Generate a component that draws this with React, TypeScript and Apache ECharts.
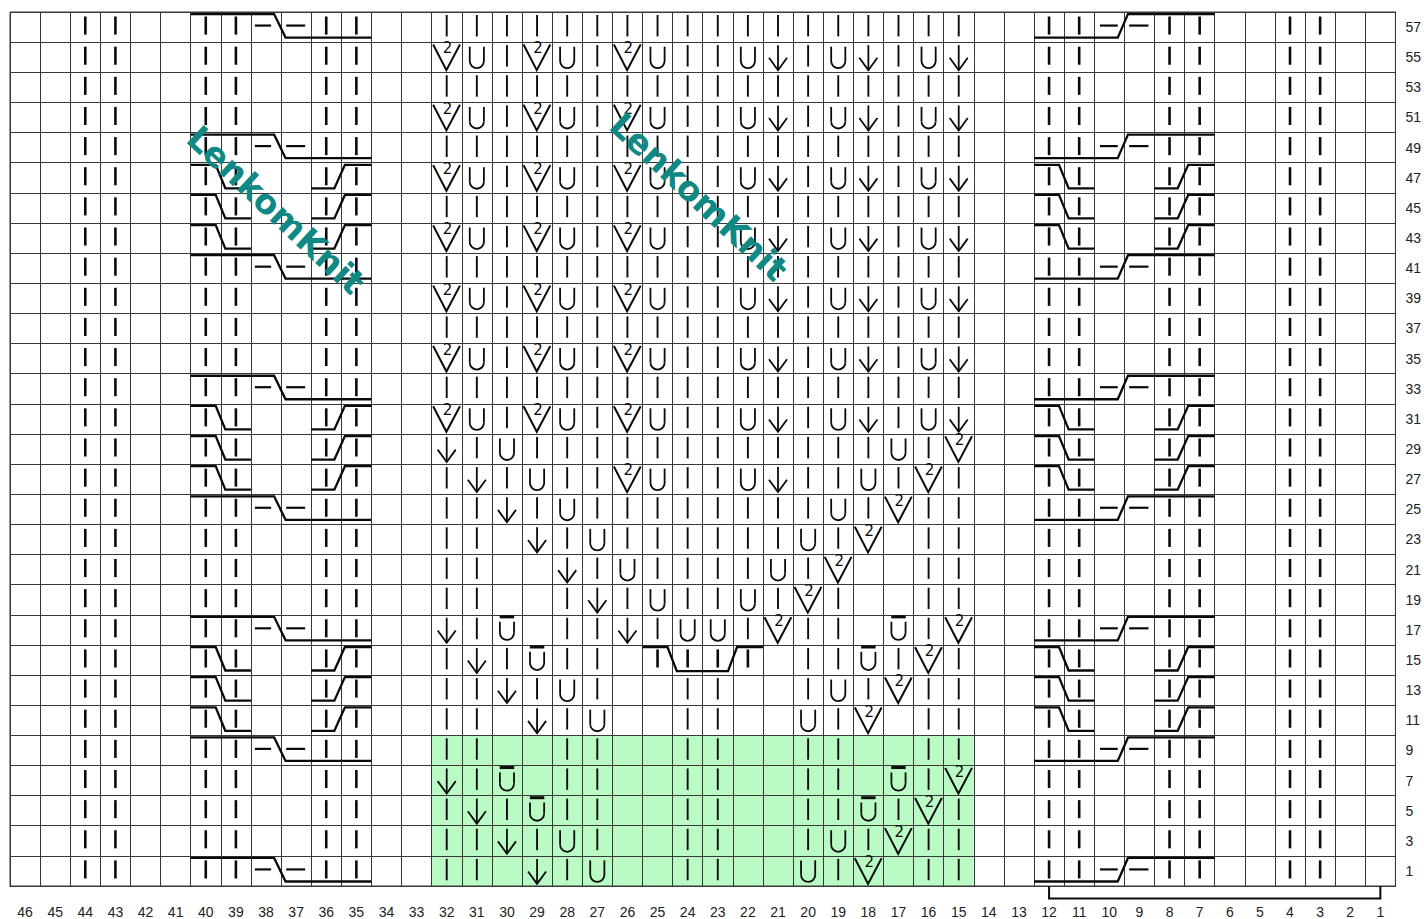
import React, { useEffect, useRef } from "react";
import * as echarts from "echarts";

// ---------- data ----------
const COLUMN_LABELS = ["46","45","44","43","42","41","40","39","38","37","36","35","34","33","32","31","30","29","28","27","26","25","24","23","22","21","20","19","18","17","16","15","14","13","12","11","10","9","8","7","6","5","4","3","2","1"];
const ROW_LABELS = ["1","3","5","7","9","11","13","15","17","19","21","23","25","27","29","31","33","35","37","39","41","43","45","47","49","51","53","55","57"];

// K = knit bar (panels/sides), I = knit bar (centre), U = yarn over, O = yarn over with bar,
// D = arrow decrease, V = "2" V-stitch, . = empty
const SIDE_LEFT = "..KK..KK..KK..";   // columns 46..33
const SIDE_RIGHT = "..KK..KK..KK..";  // columns 14..1
const MIDDLE_ROWS: [number, string][] = [
  [57, "IIIIIIIIIIIIIIIIII"],
  [55, "VUIVUIVUIIUDIUDIUD"],
  [53, "IIIIIIIIIIIIIIIIII"],
  [51, "VUIVUIVUIIUDIUDIUD"],
  [49, "IIIIIIIIIIIIIIIIII"],
  [47, "VUIVUIVUIIUDIUDIUD"],
  [45, "IIIIIIIIIIIIIIIIII"],
  [43, "VUIVUIVUIIUDIUDIUD"],
  [41, "IIIIIIIIIIIIIIIIII"],
  [39, "VUIVUIVUIIUDIUDIUD"],
  [37, "IIIIIIIIIIIIIIIIII"],
  [35, "VUIVUIVUIIUDIUDIUD"],
  [33, "IIIIIIIIIIIIIIIIII"],
  [31, "VUIVUIVUIIUDIUDIUD"],
  [29, "DIUIIIIIIIIIIIIUIV"],
  [27, "IDIUIIVUIIUDIIUIVI"],
  [25, "IIDIUIIIIIIIIUIVII"],
  [23, "II.DIUIIIIIIUIV.II"],
  [21, "II..DIUIIIIUIV..II"],
  [19, "II..IDIUIIUIVI..II"],
  [17, "DIO.IIDIUUIVII.OIV"],
  [15, "IDIOII.KKKK.IIOIVI"],
  [13, "IIDIUI..II..IUIVII"],
  [11, "II.DIU..II..UIV.II"],
  [9,  "II..II..II..II..II"],
  [7,  "DIO.II..II..II.OIV"],
  [5,  "IDIOII..II..IIOIVI"],
  [3,  "IIDIUI..II..IUIVII"],
  [1,  "II.DIU..II..UIV.II"],
];

// cables: rows and left-most column
const BIG_CABLE_ROWS = [1, 9, 17, 25, 33, 41, 49, 57];
const SMALL_CABLE_ROWS = [11, 13, 15, 27, 29, 31, 43, 45, 47];
const BIG_FALL_COLUMNS = [40];
const BIG_RISE_COLUMNS = [12];
const SMALL_FALL_COLUMNS = [40, 12];
const SMALL_RISE_COLUMNS = [36, 8];
const TROUGH_CABLES: [number, number][] = [[25, 15]]; // [column, row]

const HIGHLIGHT = { fromCol: 32, toCol: 15, fromRow: 1, toRow: 9 };
const REPEAT_BRACKET = { fromCol: 12, toCol: 1 };
const WATERMARK_TEXT = "LenkomKnit";

// ---------- helpers ----------
const xi = (col: number) => COLUMN_LABELS.indexOf(String(col));
const yi = (row: number) => ROW_LABELS.indexOf(String(row));

const INK = "#0a0a0a";
const GRID = "#383838";

function seg(x1: number, y1: number, x2: number, y2: number, lw: number, color = INK) {
  return { type: "line", shape: { x1, y1, x2, y2 }, style: { stroke: color, lineWidth: lw, lineCap: "butt" } };
}
function poly(points: number[][], lw: number) {
  return { type: "polyline", shape: { points }, style: { stroke: INK, lineWidth: lw, fill: null, lineJoin: "miter" } };
}
function cellBox(api: any) {
  const c = api.coord([api.value(0), api.value(1)]);
  const s = api.size([1, 1]);
  return { cx: c[0], cy: c[1], w: s[0], h: s[1] };
}
function uShape(c: any, top: number, arcY: number, lw = 1.8) {
  const r = 0.235 * c.w;
  const yTop = c.cy + top * c.h;
  const yArc = c.cy + arcY * c.h;
  return [
    seg(c.cx - r, yTop, c.cx - r, yArc, lw),
    seg(c.cx + r, yTop, c.cx + r, yArc, lw),
    { type: "arc", shape: { cx: c.cx, cy: yArc, r, startAngle: 0, endAngle: Math.PI, clockwise: true }, style: { stroke: INK, lineWidth: lw, fill: null } },
  ];
}

const DRAWERS: Record<string, (c: any) => any[]> = {
  K: (c) => [seg(c.cx, c.cy - 0.35 * c.h, c.cx, c.cy + 0.25 * c.h, 2.6)],
  I: (c) => [seg(c.cx, c.cy - 0.40 * c.h, c.cx, c.cy + 0.31 * c.h, 1.9)],
  U: (c) => uShape(c, -0.35, 0.13),
  O: (c) => [seg(c.cx - 0.24 * c.w, c.cy - 0.43 * c.h, c.cx + 0.24 * c.w, c.cy - 0.43 * c.h, 3), ...uShape(c, -0.27, 0.10)],
  D: (c) => [
    seg(c.cx, c.cy - 0.40 * c.h, c.cx, c.cy + 0.43 * c.h, 1.8),
    poly([[c.cx - 0.3 * c.w, c.cy + 0.02 * c.h], [c.cx, c.cy + 0.43 * c.h], [c.cx + 0.3 * c.w, c.cy + 0.02 * c.h]], 1.8),
  ],
  V: (c) => [
    poly([[c.cx - 0.45 * c.w, c.cy - 0.42 * c.h], [c.cx - 0.01 * c.w, c.cy + 0.43 * c.h], [c.cx + 0.44 * c.w, c.cy - 0.42 * c.h]], 2),
    { type: "text", x: c.cx + 0.03 * c.w, y: c.cy - 0.29 * c.h, style: { text: "2", fill: INK, fontSize: 15, fontFamily: "DejaVu Sans", align: "center", verticalAlign: "middle" } },
  ],
};

type CableKind = "bigFall" | "bigRise" | "smallFall" | "smallRise" | "trough";
function cableShapes(kind: CableKind, c: any) {
  const xL = c.cx - c.w / 2;
  const yT = c.cy - c.h / 2;
  const w = c.w, h = c.h;
  const up = yT + 0.07 * h, dn = yT + 0.85 * h, dash = yT + 0.45 * h;
  const lw = 2.3;
  switch (kind) {
    case "bigFall":
      return [
        poly([[xL, up], [xL + 2.77 * w, up], [xL + 3.15 * w, dn], [xL + 6 * w, dn]], lw),
        seg(xL + 2.13 * w, dash, xL + 2.67 * w, dash, 2.2),
        seg(xL + 3.17 * w, dash, xL + 3.8 * w, dash, 2.2),
      ];
    case "bigRise":
      return [
        poly([[xL, dn], [xL + 2.78 * w, dn], [xL + 3.12 * w, up], [xL + 6 * w, up]], lw),
        seg(xL + 2.19 * w, dash, xL + 2.78 * w, dash, 2.2),
        seg(xL + 3.16 * w, dash, xL + 3.8 * w, dash, 2.2),
      ];
    case "smallFall":
      return [poly([[xL, up], [xL + 0.83 * w, up], [xL + 1.15 * w, dn], [xL + 2 * w, dn]], lw)];
    case "smallRise":
      return [poly([[xL, dn], [xL + 0.77 * w, dn], [xL + 1.12 * w, up], [xL + 2 * w, up]], lw)];
    case "trough": {
      const d2 = yT + 0.87 * h;
      return [poly([[xL, up], [xL + 0.83 * w, up], [xL + 1.14 * w, d2], [xL + 2.84 * w, d2], [xL + 3.14 * w, up], [xL + 4 * w, up]], lw)];
    }
  }
}

function buildCellBuckets() {
  const buckets: Record<string, number[][]> = {};
  for (const [row, mid] of MIDDLE_ROWS) {
    const full = SIDE_LEFT + mid + SIDE_RIGHT;
    for (let k = 0; k < full.length; k++) {
      const ch = full[k];
      if (ch === ".") continue;
      (buckets[ch] = buckets[ch] || []).push([k, yi(row)]);
    }
  }
  return buckets;
}

function cablePairs(cols: number[], rows: number[]) {
  const out: number[][] = [];
  for (const col of cols) for (const row of rows) out.push([xi(col), yi(row)]);
  return out;
}

export default function App() {
  const ref = useRef<HTMLDivElement>(null);
  useEffect(() => {
    if (!ref.current) return;
    const chart = echarts.init(ref.current, undefined, { renderer: "svg" });
    const buckets = buildCellBuckets();

    const symbolSeries = Object.keys(buckets).map((ch) => ({
      type: "custom",
      name: "sym-" + ch,
      silent: true,
      z: 5,
      clip: false,
      data: buckets[ch],
      renderItem: (_p: any, api: any) => ({ type: "group", children: DRAWERS[ch](cellBox(api)) }),
    }));

    const cableDefs: [CableKind, number[][]][] = [
      ["bigFall", cablePairs(BIG_FALL_COLUMNS, BIG_CABLE_ROWS)],
      ["bigRise", cablePairs(BIG_RISE_COLUMNS, BIG_CABLE_ROWS)],
      ["smallFall", cablePairs(SMALL_FALL_COLUMNS, SMALL_CABLE_ROWS)],
      ["smallRise", cablePairs(SMALL_RISE_COLUMNS, SMALL_CABLE_ROWS)],
      ["trough", TROUGH_CABLES.map(([col, row]) => [xi(col), yi(row)])],
    ];
    const cableSeries = cableDefs.map(([kind, data]) => ({
      type: "custom",
      name: "cable-" + kind,
      silent: true,
      z: 6,
      clip: false,
      data,
      renderItem: (_p: any, api: any) => ({ type: "group", children: cableShapes(kind, cellBox(api)) }),
    }));

    const highlightSeries = {
      type: "custom",
      name: "highlight",
      silent: true,
      z: 1,
      clip: false,
      encode: { x: [0, 1], y: [2, 3] },
      data: [[xi(HIGHLIGHT.fromCol), xi(HIGHLIGHT.toCol), yi(HIGHLIGHT.fromRow), yi(HIGHLIGHT.toRow)]],
      renderItem: (_p: any, api: any) => {
        const a = api.coord([api.value(0), api.value(2)]);
        const b = api.coord([api.value(1), api.value(3)]);
        const s = api.size([1, 1]);
        const x0 = Math.min(a[0], b[0]) - s[0] / 2;
        const x1 = Math.max(a[0], b[0]) + s[0] / 2;
        const y0 = Math.min(a[1], b[1]) - s[1] / 2;
        const y1 = Math.max(a[1], b[1]) + s[1] / 2;
        return { type: "rect", shape: { x: x0, y: y0, width: x1 - x0, height: y1 - y0 }, style: { fill: "#bafbc5" } };
      },
    };

    const bracketSeries = {
      type: "custom",
      name: "repeat",
      silent: true,
      z: 6,
      clip: false,
      encode: { x: [0, 1], y: 2 },
      data: [[xi(REPEAT_BRACKET.fromCol), xi(REPEAT_BRACKET.toCol), 0]],
      renderItem: (_p: any, api: any) => {
        const a = api.coord([api.value(0), api.value(2)]);
        const b = api.coord([api.value(1), api.value(2)]);
        const s = api.size([1, 1]);
        const yB = a[1] + s[1] / 2;
        return poly([[a[0], yB], [a[0], yB + 12.5], [b[0], yB + 12.5], [b[0], yB]], 2);
      },
    };

    const labelStyle = { fontSize: 14, fontFamily: "Liberation Sans", color: "#222" };

    chart.setOption({
      animation: false,
      backgroundColor: "#ffffff",
      grid: { left: 10, top: 12, width: 1386, height: 874, show: true, borderColor: GRID, borderWidth: 1, backgroundColor: "transparent", z: 3 },
      xAxis: {
        type: "category",
        data: COLUMN_LABELS,
        position: "bottom",
        boundaryGap: true,
        z: 3,
        axisLine: { show: true, lineStyle: { color: GRID, width: 1 } },
        axisTick: { show: false },
        axisLabel: { interval: 0, margin: 19, ...labelStyle },
        splitLine: { show: true, interval: 0, lineStyle: { color: GRID, width: 1 } },
      },
      yAxis: {
        type: "category",
        data: ROW_LABELS,
        position: "right",
        boundaryGap: true,
        z: 3,
        axisLine: { show: true, lineStyle: { color: GRID, width: 1 } },
        axisTick: { show: false },
        axisLabel: { interval: 0, margin: 10, align: "left", ...labelStyle },
        splitLine: { show: true, interval: 0, lineStyle: { color: GRID, width: 1 } },
      },
      graphic: [
        { type: "text", x: 276, y: 210, rotation: -0.75, z: 100, silent: true,
          style: { text: WATERMARK_TEXT, fill: "#108985", font: 'bold 34px "DejaVu Sans"', align: "center", verticalAlign: "middle" } },
        { type: "text", x: 699, y: 197, rotation: -0.75, z: 100, silent: true,
          style: { text: WATERMARK_TEXT, fill: "#108985", font: 'bold 34px "DejaVu Sans"', align: "center", verticalAlign: "middle" } },
      ],
      series: [highlightSeries, ...symbolSeries, ...cableSeries, bracketSeries],
    });
    return () => chart.dispose();
  }, []);

  return <div ref={ref} style={{ position: "fixed", left: 0, top: 0, width: 1424, height: 919, background: "#fff" }} />;
}
